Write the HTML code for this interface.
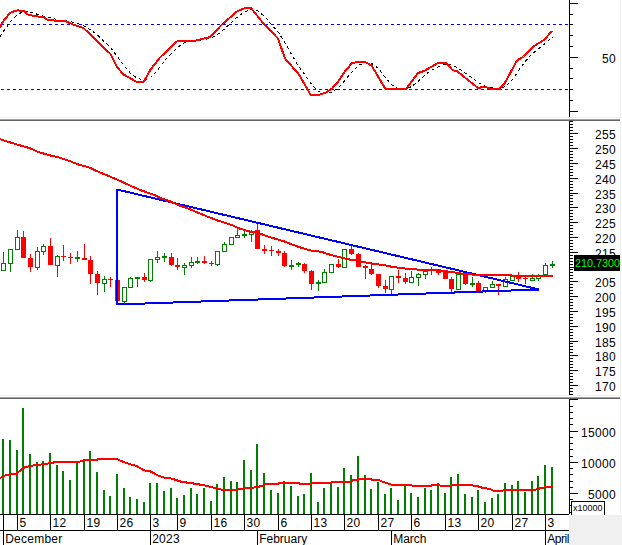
<!DOCTYPE html>
<html><head><meta charset="utf-8"><title>Chart</title>
<style>
html,body{margin:0;padding:0;background:#fff;}
body{width:622px;height:545px;overflow:hidden;position:relative;font-family:"Liberation Sans",sans-serif;}
svg{position:absolute;left:0;top:0;display:block}
text{font-family:"Liberation Sans",sans-serif;}
</style></head><body>
<svg width="622" height="545" viewBox="0 0 622 545">
<rect x="0" y="0" width="622" height="545" fill="#fff"/>

<g shape-rendering="crispEdges">
<rect x="620" y="0" width="1" height="514" fill="#efefef"/>
<rect x="0" y="117" width="621" height="1" fill="#efefef"/>
<rect x="0" y="118" width="622" height="1" fill="#ffffff"/>
<rect x="0" y="119" width="620" height="1" fill="#a0a0a0"/>
<rect x="0" y="120" width="620" height="1" fill="#646464"/>
<rect x="0" y="395" width="621" height="1" fill="#efefef"/>
<rect x="0" y="396" width="622" height="1" fill="#ffffff"/>
<rect x="0" y="397" width="620" height="1" fill="#a0a0a0"/>
<rect x="0" y="398" width="620" height="1" fill="#646464"/>
<rect x="1" y="24" width="3" height="1" fill="#0000ff"/>
<rect x="7" y="24" width="3" height="1" fill="#0000ff"/>
<rect x="13" y="24" width="3" height="1" fill="#0000ff"/>
<rect x="19" y="24" width="3" height="1" fill="#0000ff"/>
<rect x="25" y="24" width="3" height="1" fill="#0000ff"/>
<rect x="31" y="24" width="3" height="1" fill="#0000ff"/>
<rect x="37" y="24" width="3" height="1" fill="#0000ff"/>
<rect x="43" y="24" width="3" height="1" fill="#0000ff"/>
<rect x="49" y="24" width="3" height="1" fill="#0000ff"/>
<rect x="55" y="24" width="3" height="1" fill="#0000ff"/>
<rect x="61" y="24" width="3" height="1" fill="#0000ff"/>
<rect x="67" y="24" width="3" height="1" fill="#0000ff"/>
<rect x="73" y="24" width="3" height="1" fill="#0000ff"/>
<rect x="79" y="24" width="3" height="1" fill="#0000ff"/>
<rect x="85" y="24" width="3" height="1" fill="#0000ff"/>
<rect x="91" y="24" width="3" height="1" fill="#0000ff"/>
<rect x="97" y="24" width="3" height="1" fill="#0000ff"/>
<rect x="103" y="24" width="3" height="1" fill="#0000ff"/>
<rect x="109" y="24" width="3" height="1" fill="#0000ff"/>
<rect x="115" y="24" width="3" height="1" fill="#0000ff"/>
<rect x="121" y="24" width="3" height="1" fill="#0000ff"/>
<rect x="127" y="24" width="3" height="1" fill="#0000ff"/>
<rect x="133" y="24" width="3" height="1" fill="#0000ff"/>
<rect x="139" y="24" width="3" height="1" fill="#0000ff"/>
<rect x="145" y="24" width="3" height="1" fill="#0000ff"/>
<rect x="151" y="24" width="3" height="1" fill="#0000ff"/>
<rect x="157" y="24" width="3" height="1" fill="#0000ff"/>
<rect x="163" y="24" width="3" height="1" fill="#0000ff"/>
<rect x="169" y="24" width="3" height="1" fill="#0000ff"/>
<rect x="175" y="24" width="3" height="1" fill="#0000ff"/>
<rect x="181" y="24" width="3" height="1" fill="#0000ff"/>
<rect x="187" y="24" width="3" height="1" fill="#0000ff"/>
<rect x="193" y="24" width="3" height="1" fill="#0000ff"/>
<rect x="199" y="24" width="3" height="1" fill="#0000ff"/>
<rect x="205" y="24" width="3" height="1" fill="#0000ff"/>
<rect x="211" y="24" width="3" height="1" fill="#0000ff"/>
<rect x="217" y="24" width="3" height="1" fill="#0000ff"/>
<rect x="223" y="24" width="3" height="1" fill="#0000ff"/>
<rect x="229" y="24" width="3" height="1" fill="#0000ff"/>
<rect x="235" y="24" width="3" height="1" fill="#0000ff"/>
<rect x="241" y="24" width="3" height="1" fill="#0000ff"/>
<rect x="247" y="24" width="3" height="1" fill="#0000ff"/>
<rect x="253" y="24" width="3" height="1" fill="#0000ff"/>
<rect x="259" y="24" width="3" height="1" fill="#0000ff"/>
<rect x="265" y="24" width="3" height="1" fill="#0000ff"/>
<rect x="271" y="24" width="3" height="1" fill="#0000ff"/>
<rect x="277" y="24" width="3" height="1" fill="#0000ff"/>
<rect x="283" y="24" width="3" height="1" fill="#0000ff"/>
<rect x="289" y="24" width="3" height="1" fill="#0000ff"/>
<rect x="295" y="24" width="3" height="1" fill="#0000ff"/>
<rect x="301" y="24" width="3" height="1" fill="#0000ff"/>
<rect x="307" y="24" width="3" height="1" fill="#0000ff"/>
<rect x="313" y="24" width="3" height="1" fill="#0000ff"/>
<rect x="319" y="24" width="3" height="1" fill="#0000ff"/>
<rect x="325" y="24" width="3" height="1" fill="#0000ff"/>
<rect x="331" y="24" width="3" height="1" fill="#0000ff"/>
<rect x="337" y="24" width="3" height="1" fill="#0000ff"/>
<rect x="343" y="24" width="3" height="1" fill="#0000ff"/>
<rect x="349" y="24" width="3" height="1" fill="#0000ff"/>
<rect x="355" y="24" width="3" height="1" fill="#0000ff"/>
<rect x="361" y="24" width="3" height="1" fill="#0000ff"/>
<rect x="367" y="24" width="3" height="1" fill="#0000ff"/>
<rect x="373" y="24" width="3" height="1" fill="#0000ff"/>
<rect x="379" y="24" width="3" height="1" fill="#0000ff"/>
<rect x="385" y="24" width="3" height="1" fill="#0000ff"/>
<rect x="391" y="24" width="3" height="1" fill="#0000ff"/>
<rect x="397" y="24" width="3" height="1" fill="#0000ff"/>
<rect x="403" y="24" width="3" height="1" fill="#0000ff"/>
<rect x="409" y="24" width="3" height="1" fill="#0000ff"/>
<rect x="415" y="24" width="3" height="1" fill="#0000ff"/>
<rect x="421" y="24" width="3" height="1" fill="#0000ff"/>
<rect x="427" y="24" width="3" height="1" fill="#0000ff"/>
<rect x="433" y="24" width="3" height="1" fill="#0000ff"/>
<rect x="439" y="24" width="3" height="1" fill="#0000ff"/>
<rect x="445" y="24" width="3" height="1" fill="#0000ff"/>
<rect x="451" y="24" width="3" height="1" fill="#0000ff"/>
<rect x="457" y="24" width="3" height="1" fill="#0000ff"/>
<rect x="463" y="24" width="3" height="1" fill="#0000ff"/>
<rect x="469" y="24" width="3" height="1" fill="#0000ff"/>
<rect x="475" y="24" width="3" height="1" fill="#0000ff"/>
<rect x="481" y="24" width="3" height="1" fill="#0000ff"/>
<rect x="487" y="24" width="3" height="1" fill="#0000ff"/>
<rect x="493" y="24" width="3" height="1" fill="#0000ff"/>
<rect x="499" y="24" width="3" height="1" fill="#0000ff"/>
<rect x="505" y="24" width="3" height="1" fill="#0000ff"/>
<rect x="511" y="24" width="3" height="1" fill="#0000ff"/>
<rect x="517" y="24" width="3" height="1" fill="#0000ff"/>
<rect x="523" y="24" width="3" height="1" fill="#0000ff"/>
<rect x="529" y="24" width="3" height="1" fill="#0000ff"/>
<rect x="535" y="24" width="3" height="1" fill="#0000ff"/>
<rect x="541" y="24" width="3" height="1" fill="#0000ff"/>
<rect x="547" y="24" width="3" height="1" fill="#0000ff"/>
<rect x="553" y="24" width="3" height="1" fill="#0000ff"/>
<rect x="559" y="24" width="3" height="1" fill="#0000ff"/>
<rect x="565" y="24" width="3" height="1" fill="#0000ff"/>
<rect x="1" y="89" width="3" height="1" fill="#0000ff"/>
<rect x="7" y="89" width="3" height="1" fill="#0000ff"/>
<rect x="13" y="89" width="3" height="1" fill="#0000ff"/>
<rect x="19" y="89" width="3" height="1" fill="#0000ff"/>
<rect x="25" y="89" width="3" height="1" fill="#0000ff"/>
<rect x="31" y="89" width="3" height="1" fill="#0000ff"/>
<rect x="37" y="89" width="3" height="1" fill="#0000ff"/>
<rect x="43" y="89" width="3" height="1" fill="#0000ff"/>
<rect x="49" y="89" width="3" height="1" fill="#0000ff"/>
<rect x="55" y="89" width="3" height="1" fill="#0000ff"/>
<rect x="61" y="89" width="3" height="1" fill="#0000ff"/>
<rect x="67" y="89" width="3" height="1" fill="#0000ff"/>
<rect x="73" y="89" width="3" height="1" fill="#0000ff"/>
<rect x="79" y="89" width="3" height="1" fill="#0000ff"/>
<rect x="85" y="89" width="3" height="1" fill="#0000ff"/>
<rect x="91" y="89" width="3" height="1" fill="#0000ff"/>
<rect x="97" y="89" width="3" height="1" fill="#0000ff"/>
<rect x="103" y="89" width="3" height="1" fill="#0000ff"/>
<rect x="109" y="89" width="3" height="1" fill="#0000ff"/>
<rect x="115" y="89" width="3" height="1" fill="#0000ff"/>
<rect x="121" y="89" width="3" height="1" fill="#0000ff"/>
<rect x="127" y="89" width="3" height="1" fill="#0000ff"/>
<rect x="133" y="89" width="3" height="1" fill="#0000ff"/>
<rect x="139" y="89" width="3" height="1" fill="#0000ff"/>
<rect x="145" y="89" width="3" height="1" fill="#0000ff"/>
<rect x="151" y="89" width="3" height="1" fill="#0000ff"/>
<rect x="157" y="89" width="3" height="1" fill="#0000ff"/>
<rect x="163" y="89" width="3" height="1" fill="#0000ff"/>
<rect x="169" y="89" width="3" height="1" fill="#0000ff"/>
<rect x="175" y="89" width="3" height="1" fill="#0000ff"/>
<rect x="181" y="89" width="3" height="1" fill="#0000ff"/>
<rect x="187" y="89" width="3" height="1" fill="#0000ff"/>
<rect x="193" y="89" width="3" height="1" fill="#0000ff"/>
<rect x="199" y="89" width="3" height="1" fill="#0000ff"/>
<rect x="205" y="89" width="3" height="1" fill="#0000ff"/>
<rect x="211" y="89" width="3" height="1" fill="#0000ff"/>
<rect x="217" y="89" width="3" height="1" fill="#0000ff"/>
<rect x="223" y="89" width="3" height="1" fill="#0000ff"/>
<rect x="229" y="89" width="3" height="1" fill="#0000ff"/>
<rect x="235" y="89" width="3" height="1" fill="#0000ff"/>
<rect x="241" y="89" width="3" height="1" fill="#0000ff"/>
<rect x="247" y="89" width="3" height="1" fill="#0000ff"/>
<rect x="253" y="89" width="3" height="1" fill="#0000ff"/>
<rect x="259" y="89" width="3" height="1" fill="#0000ff"/>
<rect x="265" y="89" width="3" height="1" fill="#0000ff"/>
<rect x="271" y="89" width="3" height="1" fill="#0000ff"/>
<rect x="277" y="89" width="3" height="1" fill="#0000ff"/>
<rect x="283" y="89" width="3" height="1" fill="#0000ff"/>
<rect x="289" y="89" width="3" height="1" fill="#0000ff"/>
<rect x="295" y="89" width="3" height="1" fill="#0000ff"/>
<rect x="301" y="89" width="3" height="1" fill="#0000ff"/>
<rect x="307" y="89" width="3" height="1" fill="#0000ff"/>
<rect x="313" y="89" width="3" height="1" fill="#0000ff"/>
<rect x="319" y="89" width="3" height="1" fill="#0000ff"/>
<rect x="325" y="89" width="3" height="1" fill="#0000ff"/>
<rect x="331" y="89" width="3" height="1" fill="#0000ff"/>
<rect x="337" y="89" width="3" height="1" fill="#0000ff"/>
<rect x="343" y="89" width="3" height="1" fill="#0000ff"/>
<rect x="349" y="89" width="3" height="1" fill="#0000ff"/>
<rect x="355" y="89" width="3" height="1" fill="#0000ff"/>
<rect x="361" y="89" width="3" height="1" fill="#0000ff"/>
<rect x="367" y="89" width="3" height="1" fill="#0000ff"/>
<rect x="373" y="89" width="3" height="1" fill="#0000ff"/>
<rect x="379" y="89" width="3" height="1" fill="#0000ff"/>
<rect x="385" y="89" width="3" height="1" fill="#0000ff"/>
<rect x="391" y="89" width="3" height="1" fill="#0000ff"/>
<rect x="397" y="89" width="3" height="1" fill="#0000ff"/>
<rect x="403" y="89" width="3" height="1" fill="#0000ff"/>
<rect x="409" y="89" width="3" height="1" fill="#0000ff"/>
<rect x="415" y="89" width="3" height="1" fill="#0000ff"/>
<rect x="421" y="89" width="3" height="1" fill="#0000ff"/>
<rect x="427" y="89" width="3" height="1" fill="#0000ff"/>
<rect x="433" y="89" width="3" height="1" fill="#0000ff"/>
<rect x="439" y="89" width="3" height="1" fill="#0000ff"/>
<rect x="445" y="89" width="3" height="1" fill="#0000ff"/>
<rect x="451" y="89" width="3" height="1" fill="#0000ff"/>
<rect x="457" y="89" width="3" height="1" fill="#0000ff"/>
<rect x="463" y="89" width="3" height="1" fill="#0000ff"/>
<rect x="469" y="89" width="3" height="1" fill="#0000ff"/>
<rect x="475" y="89" width="3" height="1" fill="#0000ff"/>
<rect x="481" y="89" width="3" height="1" fill="#0000ff"/>
<rect x="487" y="89" width="3" height="1" fill="#0000ff"/>
<rect x="493" y="89" width="3" height="1" fill="#0000ff"/>
<rect x="499" y="89" width="3" height="1" fill="#0000ff"/>
<rect x="505" y="89" width="3" height="1" fill="#0000ff"/>
<rect x="511" y="89" width="3" height="1" fill="#0000ff"/>
<rect x="517" y="89" width="3" height="1" fill="#0000ff"/>
<rect x="523" y="89" width="3" height="1" fill="#0000ff"/>
<rect x="529" y="89" width="3" height="1" fill="#0000ff"/>
<rect x="535" y="89" width="3" height="1" fill="#0000ff"/>
<rect x="541" y="89" width="3" height="1" fill="#0000ff"/>
<rect x="547" y="89" width="3" height="1" fill="#0000ff"/>
<rect x="553" y="89" width="3" height="1" fill="#0000ff"/>
<rect x="559" y="89" width="3" height="1" fill="#0000ff"/>
<rect x="565" y="89" width="3" height="1" fill="#0000ff"/>
<rect x="569" y="0" width="1" height="117" fill="#000"/>
<rect x="570" y="3" width="8" height="1" fill="#000"/>
<rect x="570" y="14" width="3" height="1" fill="#000"/>
<rect x="570" y="24" width="3" height="1" fill="#000"/>
<rect x="570" y="35" width="3" height="1" fill="#000"/>
<rect x="570" y="46" width="3" height="1" fill="#000"/>
<rect x="570" y="57" width="8" height="1" fill="#000"/>
<rect x="570" y="68" width="3" height="1" fill="#000"/>
<rect x="570" y="78" width="3" height="1" fill="#000"/>
<rect x="570" y="89" width="3" height="1" fill="#000"/>
<rect x="570" y="100" width="3" height="1" fill="#000"/>
<rect x="570" y="111" width="8" height="1" fill="#000"/>
<rect x="569" y="121" width="1" height="274" fill="#000"/>
<rect x="570" y="121" width="3" height="1" fill="#000"/>
<rect x="570" y="124" width="3" height="1" fill="#000"/>
<rect x="570" y="127" width="3" height="1" fill="#000"/>
<rect x="570" y="130" width="3" height="1" fill="#000"/>
<rect x="570" y="133" width="8" height="1" fill="#000"/>
<rect x="570" y="136" width="3" height="1" fill="#000"/>
<rect x="570" y="139" width="3" height="1" fill="#000"/>
<rect x="570" y="142" width="3" height="1" fill="#000"/>
<rect x="570" y="145" width="3" height="1" fill="#000"/>
<rect x="570" y="148" width="8" height="1" fill="#000"/>
<rect x="570" y="151" width="3" height="1" fill="#000"/>
<rect x="570" y="154" width="3" height="1" fill="#000"/>
<rect x="570" y="157" width="3" height="1" fill="#000"/>
<rect x="570" y="160" width="3" height="1" fill="#000"/>
<rect x="570" y="163" width="8" height="1" fill="#000"/>
<rect x="570" y="166" width="3" height="1" fill="#000"/>
<rect x="570" y="169" width="3" height="1" fill="#000"/>
<rect x="570" y="172" width="3" height="1" fill="#000"/>
<rect x="570" y="175" width="3" height="1" fill="#000"/>
<rect x="570" y="178" width="8" height="1" fill="#000"/>
<rect x="570" y="181" width="3" height="1" fill="#000"/>
<rect x="570" y="184" width="3" height="1" fill="#000"/>
<rect x="570" y="187" width="3" height="1" fill="#000"/>
<rect x="570" y="190" width="3" height="1" fill="#000"/>
<rect x="570" y="193" width="8" height="1" fill="#000"/>
<rect x="570" y="195" width="3" height="1" fill="#000"/>
<rect x="570" y="198" width="3" height="1" fill="#000"/>
<rect x="570" y="201" width="3" height="1" fill="#000"/>
<rect x="570" y="204" width="3" height="1" fill="#000"/>
<rect x="570" y="207" width="8" height="1" fill="#000"/>
<rect x="570" y="210" width="3" height="1" fill="#000"/>
<rect x="570" y="213" width="3" height="1" fill="#000"/>
<rect x="570" y="216" width="3" height="1" fill="#000"/>
<rect x="570" y="219" width="3" height="1" fill="#000"/>
<rect x="570" y="222" width="8" height="1" fill="#000"/>
<rect x="570" y="225" width="3" height="1" fill="#000"/>
<rect x="570" y="228" width="3" height="1" fill="#000"/>
<rect x="570" y="231" width="3" height="1" fill="#000"/>
<rect x="570" y="234" width="3" height="1" fill="#000"/>
<rect x="570" y="237" width="8" height="1" fill="#000"/>
<rect x="570" y="240" width="3" height="1" fill="#000"/>
<rect x="570" y="243" width="3" height="1" fill="#000"/>
<rect x="570" y="246" width="3" height="1" fill="#000"/>
<rect x="570" y="249" width="3" height="1" fill="#000"/>
<rect x="570" y="252" width="8" height="1" fill="#000"/>
<rect x="570" y="255" width="3" height="1" fill="#000"/>
<rect x="570" y="258" width="3" height="1" fill="#000"/>
<rect x="570" y="261" width="3" height="1" fill="#000"/>
<rect x="570" y="264" width="3" height="1" fill="#000"/>
<rect x="570" y="267" width="8" height="1" fill="#000"/>
<rect x="570" y="269" width="3" height="1" fill="#000"/>
<rect x="570" y="272" width="3" height="1" fill="#000"/>
<rect x="570" y="275" width="3" height="1" fill="#000"/>
<rect x="570" y="278" width="3" height="1" fill="#000"/>
<rect x="570" y="281" width="8" height="1" fill="#000"/>
<rect x="570" y="284" width="3" height="1" fill="#000"/>
<rect x="570" y="287" width="3" height="1" fill="#000"/>
<rect x="570" y="290" width="3" height="1" fill="#000"/>
<rect x="570" y="293" width="3" height="1" fill="#000"/>
<rect x="570" y="296" width="8" height="1" fill="#000"/>
<rect x="570" y="299" width="3" height="1" fill="#000"/>
<rect x="570" y="302" width="3" height="1" fill="#000"/>
<rect x="570" y="305" width="3" height="1" fill="#000"/>
<rect x="570" y="308" width="3" height="1" fill="#000"/>
<rect x="570" y="311" width="8" height="1" fill="#000"/>
<rect x="570" y="314" width="3" height="1" fill="#000"/>
<rect x="570" y="317" width="3" height="1" fill="#000"/>
<rect x="570" y="320" width="3" height="1" fill="#000"/>
<rect x="570" y="323" width="3" height="1" fill="#000"/>
<rect x="570" y="326" width="8" height="1" fill="#000"/>
<rect x="570" y="329" width="3" height="1" fill="#000"/>
<rect x="570" y="332" width="3" height="1" fill="#000"/>
<rect x="570" y="335" width="3" height="1" fill="#000"/>
<rect x="570" y="338" width="3" height="1" fill="#000"/>
<rect x="570" y="341" width="8" height="1" fill="#000"/>
<rect x="570" y="343" width="3" height="1" fill="#000"/>
<rect x="570" y="346" width="3" height="1" fill="#000"/>
<rect x="570" y="349" width="3" height="1" fill="#000"/>
<rect x="570" y="352" width="3" height="1" fill="#000"/>
<rect x="570" y="355" width="8" height="1" fill="#000"/>
<rect x="570" y="358" width="3" height="1" fill="#000"/>
<rect x="570" y="361" width="3" height="1" fill="#000"/>
<rect x="570" y="364" width="3" height="1" fill="#000"/>
<rect x="570" y="367" width="3" height="1" fill="#000"/>
<rect x="570" y="370" width="8" height="1" fill="#000"/>
<rect x="570" y="373" width="3" height="1" fill="#000"/>
<rect x="570" y="376" width="3" height="1" fill="#000"/>
<rect x="570" y="379" width="3" height="1" fill="#000"/>
<rect x="570" y="382" width="3" height="1" fill="#000"/>
<rect x="570" y="385" width="8" height="1" fill="#000"/>
<rect x="570" y="388" width="3" height="1" fill="#000"/>
<rect x="570" y="391" width="3" height="1" fill="#000"/>
<rect x="570" y="394" width="3" height="1" fill="#000"/>
<rect x="569" y="399" width="1" height="115" fill="#000"/>
<rect x="570" y="399" width="8" height="1" fill="#000"/>
<rect x="570" y="406" width="3" height="1" fill="#000"/>
<rect x="570" y="412" width="3" height="1" fill="#000"/>
<rect x="570" y="418" width="3" height="1" fill="#000"/>
<rect x="570" y="424" width="3" height="1" fill="#000"/>
<rect x="570" y="431" width="8" height="1" fill="#000"/>
<rect x="570" y="437" width="3" height="1" fill="#000"/>
<rect x="570" y="443" width="3" height="1" fill="#000"/>
<rect x="570" y="449" width="3" height="1" fill="#000"/>
<rect x="570" y="456" width="3" height="1" fill="#000"/>
<rect x="570" y="462" width="8" height="1" fill="#000"/>
<rect x="570" y="468" width="3" height="1" fill="#000"/>
<rect x="570" y="474" width="3" height="1" fill="#000"/>
<rect x="570" y="481" width="3" height="1" fill="#000"/>
<rect x="570" y="487" width="3" height="1" fill="#000"/>
<rect x="570" y="493" width="8" height="1" fill="#000"/>
<rect x="570" y="499" width="3" height="1" fill="#000"/>
<rect x="570" y="505" width="3" height="1" fill="#000"/>
<rect x="570" y="512" width="3" height="1" fill="#000"/>
<rect x="0" y="514" width="569" height="1" fill="#000"/>
<rect x="0" y="530" width="569" height="1" fill="#000"/>
<rect x="3" y="514" width="1" height="16" fill="#000"/>
<rect x="17" y="514" width="1" height="16" fill="#000"/>
<rect x="50" y="514" width="1" height="16" fill="#000"/>
<rect x="84" y="514" width="1" height="16" fill="#000"/>
<rect x="117" y="514" width="1" height="16" fill="#000"/>
<rect x="150" y="514" width="1" height="16" fill="#000"/>
<rect x="177" y="514" width="1" height="16" fill="#000"/>
<rect x="211" y="514" width="1" height="16" fill="#000"/>
<rect x="244" y="514" width="1" height="16" fill="#000"/>
<rect x="278" y="514" width="1" height="16" fill="#000"/>
<rect x="311" y="514" width="1" height="16" fill="#000"/>
<rect x="344" y="514" width="1" height="16" fill="#000"/>
<rect x="378" y="514" width="1" height="16" fill="#000"/>
<rect x="411" y="514" width="1" height="16" fill="#000"/>
<rect x="445" y="514" width="1" height="16" fill="#000"/>
<rect x="478" y="514" width="1" height="16" fill="#000"/>
<rect x="512" y="514" width="1" height="16" fill="#000"/>
<rect x="545" y="514" width="1" height="16" fill="#000"/>
<rect x="3" y="530" width="1" height="15" fill="#000"/>
<rect x="150" y="530" width="1" height="15" fill="#000"/>
<rect x="257" y="530" width="1" height="15" fill="#000"/>
<rect x="391" y="530" width="1" height="15" fill="#000"/>
<rect x="545" y="530" width="1" height="15" fill="#000"/>
<rect x="2" y="439" width="2" height="75" fill="#008000"/>
<rect x="9" y="440" width="2" height="74" fill="#008000"/>
<rect x="16" y="450" width="2" height="64" fill="#008000"/>
<rect x="22" y="408" width="2" height="106" fill="#008000"/>
<rect x="29" y="454" width="2" height="60" fill="#008000"/>
<rect x="36" y="462" width="2" height="52" fill="#008000"/>
<rect x="42" y="461" width="2" height="53" fill="#008000"/>
<rect x="49" y="453" width="2" height="61" fill="#008000"/>
<rect x="56" y="465" width="2" height="49" fill="#008000"/>
<rect x="62" y="471" width="2" height="43" fill="#008000"/>
<rect x="69" y="480" width="2" height="34" fill="#008000"/>
<rect x="76" y="463" width="2" height="51" fill="#008000"/>
<rect x="83" y="460" width="2" height="54" fill="#008000"/>
<rect x="89" y="451" width="2" height="63" fill="#008000"/>
<rect x="96" y="472" width="2" height="42" fill="#008000"/>
<rect x="103" y="490" width="2" height="24" fill="#008000"/>
<rect x="109" y="496" width="2" height="18" fill="#008000"/>
<rect x="116" y="474" width="2" height="40" fill="#008000"/>
<rect x="123" y="488" width="2" height="26" fill="#008000"/>
<rect x="129" y="497" width="2" height="17" fill="#008000"/>
<rect x="136" y="499" width="2" height="15" fill="#008000"/>
<rect x="143" y="502" width="2" height="12" fill="#008000"/>
<rect x="149" y="483" width="2" height="31" fill="#008000"/>
<rect x="156" y="483" width="2" height="31" fill="#008000"/>
<rect x="163" y="491" width="2" height="23" fill="#008000"/>
<rect x="170" y="488" width="2" height="26" fill="#008000"/>
<rect x="176" y="498" width="2" height="16" fill="#008000"/>
<rect x="183" y="495" width="2" height="19" fill="#008000"/>
<rect x="190" y="488" width="2" height="26" fill="#008000"/>
<rect x="196" y="494" width="2" height="20" fill="#008000"/>
<rect x="203" y="488" width="2" height="26" fill="#008000"/>
<rect x="210" y="501" width="2" height="13" fill="#008000"/>
<rect x="216" y="484" width="2" height="30" fill="#008000"/>
<rect x="223" y="477" width="2" height="37" fill="#008000"/>
<rect x="230" y="481" width="2" height="33" fill="#008000"/>
<rect x="236" y="482" width="2" height="32" fill="#008000"/>
<rect x="243" y="460" width="2" height="54" fill="#008000"/>
<rect x="250" y="470" width="2" height="44" fill="#008000"/>
<rect x="256" y="444" width="2" height="70" fill="#008000"/>
<rect x="263" y="473" width="2" height="41" fill="#008000"/>
<rect x="270" y="490" width="2" height="24" fill="#008000"/>
<rect x="277" y="493" width="2" height="21" fill="#008000"/>
<rect x="283" y="481" width="2" height="33" fill="#008000"/>
<rect x="290" y="486" width="2" height="28" fill="#008000"/>
<rect x="297" y="496" width="2" height="18" fill="#008000"/>
<rect x="303" y="494" width="2" height="20" fill="#008000"/>
<rect x="310" y="473" width="2" height="41" fill="#008000"/>
<rect x="317" y="502" width="2" height="12" fill="#008000"/>
<rect x="323" y="488" width="2" height="26" fill="#008000"/>
<rect x="330" y="483" width="2" height="31" fill="#008000"/>
<rect x="337" y="487" width="2" height="27" fill="#008000"/>
<rect x="343" y="468" width="2" height="46" fill="#008000"/>
<rect x="350" y="475" width="2" height="39" fill="#008000"/>
<rect x="357" y="456" width="2" height="58" fill="#008000"/>
<rect x="364" y="475" width="2" height="39" fill="#008000"/>
<rect x="370" y="489" width="2" height="25" fill="#008000"/>
<rect x="377" y="482" width="2" height="32" fill="#008000"/>
<rect x="384" y="494" width="2" height="20" fill="#008000"/>
<rect x="390" y="488" width="2" height="26" fill="#008000"/>
<rect x="397" y="500" width="2" height="14" fill="#008000"/>
<rect x="404" y="486" width="2" height="28" fill="#008000"/>
<rect x="410" y="493" width="2" height="21" fill="#008000"/>
<rect x="417" y="497" width="2" height="17" fill="#008000"/>
<rect x="424" y="488" width="2" height="26" fill="#008000"/>
<rect x="430" y="490" width="2" height="24" fill="#008000"/>
<rect x="437" y="483" width="2" height="31" fill="#008000"/>
<rect x="444" y="493" width="2" height="21" fill="#008000"/>
<rect x="450" y="477" width="2" height="37" fill="#008000"/>
<rect x="457" y="474" width="2" height="40" fill="#008000"/>
<rect x="464" y="494" width="2" height="20" fill="#008000"/>
<rect x="471" y="497" width="2" height="17" fill="#008000"/>
<rect x="477" y="490" width="2" height="24" fill="#008000"/>
<rect x="484" y="502" width="2" height="12" fill="#008000"/>
<rect x="491" y="498" width="2" height="16" fill="#008000"/>
<rect x="497" y="494" width="2" height="20" fill="#008000"/>
<rect x="504" y="483" width="2" height="31" fill="#008000"/>
<rect x="511" y="485" width="2" height="29" fill="#008000"/>
<rect x="517" y="481" width="2" height="33" fill="#008000"/>
<rect x="524" y="492" width="2" height="22" fill="#008000"/>
<rect x="531" y="481" width="2" height="33" fill="#008000"/>
<rect x="537" y="476" width="2" height="38" fill="#008000"/>
<rect x="544" y="465" width="2" height="49" fill="#008000"/>
<rect x="551" y="467" width="2" height="47" fill="#008000"/>
</g>
<g shape-rendering="crispEdges">
<rect x="3" y="252" width="1" height="19" fill="#008000"/>
<rect x="1" y="263" width="5" height="8" fill="#008000"/>
<rect x="2" y="264" width="3" height="6" fill="#fff"/>
<rect x="10" y="249" width="1" height="23" fill="#008000"/>
<rect x="8" y="249" width="5" height="15" fill="#008000"/>
<rect x="9" y="250" width="3" height="13" fill="#fff"/>
<rect x="17" y="230" width="1" height="20" fill="#008000"/>
<rect x="15" y="237" width="5" height="13" fill="#008000"/>
<rect x="16" y="238" width="3" height="11" fill="#fff"/>
<rect x="23" y="231" width="1" height="27" fill="#ff0000"/>
<rect x="21" y="237" width="5" height="21" fill="#ff0000"/>
<rect x="30" y="254" width="1" height="18" fill="#ff0000"/>
<rect x="28" y="258" width="5" height="9" fill="#ff0000"/>
<rect x="37" y="247" width="1" height="23" fill="#008000"/>
<rect x="35" y="251" width="5" height="17" fill="#008000"/>
<rect x="36" y="252" width="3" height="15" fill="#fff"/>
<rect x="43" y="244" width="1" height="11" fill="#008000"/>
<rect x="41" y="246" width="5" height="6" fill="#008000"/>
<rect x="42" y="247" width="3" height="4" fill="#fff"/>
<rect x="50" y="238" width="1" height="27" fill="#ff0000"/>
<rect x="48" y="246" width="5" height="19" fill="#ff0000"/>
<rect x="57" y="255" width="1" height="22" fill="#008000"/>
<rect x="55" y="256" width="5" height="10" fill="#008000"/>
<rect x="56" y="257" width="3" height="8" fill="#fff"/>
<rect x="63" y="245" width="1" height="16" fill="#ff0000"/>
<rect x="61" y="256" width="5" height="1" fill="#ff0000"/>
<rect x="70" y="253" width="1" height="11" fill="#ff0000"/>
<rect x="68" y="257" width="5" height="1" fill="#ff0000"/>
<rect x="77" y="251" width="1" height="11" fill="#008000"/>
<rect x="75" y="257" width="5" height="2" fill="#008000"/>
<rect x="84" y="244" width="1" height="16" fill="#ff0000"/>
<rect x="82" y="258" width="5" height="2" fill="#ff0000"/>
<rect x="90" y="256" width="1" height="28" fill="#ff0000"/>
<rect x="88" y="260" width="5" height="14" fill="#ff0000"/>
<rect x="97" y="271" width="1" height="24" fill="#ff0000"/>
<rect x="95" y="274" width="5" height="9" fill="#ff0000"/>
<rect x="104" y="276" width="1" height="16" fill="#008000"/>
<rect x="102" y="279" width="5" height="5" fill="#008000"/>
<rect x="103" y="280" width="3" height="3" fill="#fff"/>
<rect x="110" y="277" width="1" height="10" fill="#ff0000"/>
<rect x="108" y="279" width="5" height="1" fill="#ff0000"/>
<rect x="117" y="280" width="1" height="21" fill="#ff0000"/>
<rect x="115" y="280" width="5" height="21" fill="#ff0000"/>
<rect x="124" y="287" width="1" height="16" fill="#008000"/>
<rect x="122" y="287" width="5" height="15" fill="#008000"/>
<rect x="123" y="288" width="3" height="13" fill="#fff"/>
<rect x="130" y="277" width="1" height="11" fill="#008000"/>
<rect x="128" y="278" width="5" height="10" fill="#008000"/>
<rect x="129" y="279" width="3" height="8" fill="#fff"/>
<rect x="137" y="277" width="1" height="10" fill="#008000"/>
<rect x="135" y="277" width="5" height="2" fill="#008000"/>
<rect x="144" y="273" width="1" height="9" fill="#ff0000"/>
<rect x="142" y="277" width="5" height="3" fill="#ff0000"/>
<rect x="150" y="259" width="1" height="23" fill="#008000"/>
<rect x="148" y="259" width="5" height="22" fill="#008000"/>
<rect x="149" y="260" width="3" height="20" fill="#fff"/>
<rect x="157" y="251" width="1" height="12" fill="#008000"/>
<rect x="155" y="257" width="5" height="3" fill="#008000"/>
<rect x="156" y="258" width="3" height="1" fill="#fff"/>
<rect x="164" y="253" width="1" height="9" fill="#008000"/>
<rect x="162" y="256" width="5" height="2" fill="#008000"/>
<rect x="171" y="253" width="1" height="13" fill="#ff0000"/>
<rect x="169" y="257" width="5" height="8" fill="#ff0000"/>
<rect x="177" y="258" width="1" height="12" fill="#ff0000"/>
<rect x="175" y="265" width="5" height="2" fill="#ff0000"/>
<rect x="184" y="263" width="1" height="12" fill="#008000"/>
<rect x="182" y="265" width="5" height="3" fill="#008000"/>
<rect x="183" y="266" width="3" height="1" fill="#fff"/>
<rect x="191" y="257" width="1" height="11" fill="#008000"/>
<rect x="189" y="262" width="5" height="4" fill="#008000"/>
<rect x="190" y="263" width="3" height="2" fill="#fff"/>
<rect x="197" y="257" width="1" height="7" fill="#008000"/>
<rect x="195" y="261" width="5" height="2" fill="#008000"/>
<rect x="204" y="256" width="1" height="8" fill="#ff0000"/>
<rect x="202" y="261" width="5" height="2" fill="#ff0000"/>
<rect x="211" y="261" width="1" height="5" fill="#ff0000"/>
<rect x="209" y="263" width="5" height="1" fill="#ff0000"/>
<rect x="217" y="251" width="1" height="15" fill="#008000"/>
<rect x="215" y="251" width="5" height="14" fill="#008000"/>
<rect x="216" y="252" width="3" height="12" fill="#fff"/>
<rect x="224" y="242" width="1" height="10" fill="#008000"/>
<rect x="222" y="244" width="5" height="8" fill="#008000"/>
<rect x="223" y="245" width="3" height="6" fill="#fff"/>
<rect x="231" y="237" width="1" height="8" fill="#008000"/>
<rect x="229" y="237" width="5" height="8" fill="#008000"/>
<rect x="230" y="238" width="3" height="6" fill="#fff"/>
<rect x="237" y="228" width="1" height="10" fill="#008000"/>
<rect x="235" y="235" width="5" height="3" fill="#008000"/>
<rect x="236" y="236" width="3" height="1" fill="#fff"/>
<rect x="244" y="230" width="1" height="8" fill="#008000"/>
<rect x="242" y="234" width="5" height="2" fill="#008000"/>
<rect x="251" y="230" width="1" height="12" fill="#008000"/>
<rect x="249" y="231" width="5" height="4" fill="#008000"/>
<rect x="250" y="232" width="3" height="2" fill="#fff"/>
<rect x="257" y="223" width="1" height="26" fill="#ff0000"/>
<rect x="255" y="230" width="5" height="19" fill="#ff0000"/>
<rect x="264" y="245" width="1" height="9" fill="#ff0000"/>
<rect x="262" y="249" width="5" height="2" fill="#ff0000"/>
<rect x="271" y="246" width="1" height="10" fill="#ff0000"/>
<rect x="269" y="250" width="5" height="1" fill="#ff0000"/>
<rect x="278" y="249" width="1" height="7" fill="#ff0000"/>
<rect x="276" y="251" width="5" height="2" fill="#ff0000"/>
<rect x="284" y="251" width="1" height="16" fill="#ff0000"/>
<rect x="282" y="253" width="5" height="13" fill="#ff0000"/>
<rect x="291" y="260" width="1" height="10" fill="#008000"/>
<rect x="289" y="265" width="5" height="2" fill="#008000"/>
<rect x="298" y="262" width="1" height="5" fill="#008000"/>
<rect x="296" y="263" width="5" height="2" fill="#008000"/>
<rect x="304" y="263" width="1" height="10" fill="#ff0000"/>
<rect x="302" y="264" width="5" height="7" fill="#ff0000"/>
<rect x="311" y="270" width="1" height="20" fill="#ff0000"/>
<rect x="309" y="271" width="5" height="13" fill="#ff0000"/>
<rect x="318" y="280" width="1" height="11" fill="#008000"/>
<rect x="316" y="282" width="5" height="2" fill="#008000"/>
<rect x="324" y="269" width="1" height="14" fill="#008000"/>
<rect x="322" y="272" width="5" height="11" fill="#008000"/>
<rect x="323" y="273" width="3" height="9" fill="#fff"/>
<rect x="331" y="264" width="1" height="9" fill="#008000"/>
<rect x="329" y="264" width="5" height="9" fill="#008000"/>
<rect x="330" y="265" width="3" height="7" fill="#fff"/>
<rect x="338" y="259" width="1" height="9" fill="#ff0000"/>
<rect x="336" y="264" width="5" height="3" fill="#ff0000"/>
<rect x="344" y="249" width="1" height="19" fill="#008000"/>
<rect x="342" y="249" width="5" height="19" fill="#008000"/>
<rect x="343" y="250" width="3" height="17" fill="#fff"/>
<rect x="351" y="246" width="1" height="9" fill="#ff0000"/>
<rect x="349" y="249" width="5" height="5" fill="#ff0000"/>
<rect x="358" y="253" width="1" height="14" fill="#ff0000"/>
<rect x="356" y="254" width="5" height="13" fill="#ff0000"/>
<rect x="365" y="265" width="1" height="14" fill="#ff0000"/>
<rect x="363" y="266" width="5" height="2" fill="#ff0000"/>
<rect x="371" y="264" width="1" height="11" fill="#ff0000"/>
<rect x="369" y="269" width="5" height="5" fill="#ff0000"/>
<rect x="378" y="274" width="1" height="14" fill="#ff0000"/>
<rect x="376" y="274" width="5" height="12" fill="#ff0000"/>
<rect x="385" y="280" width="1" height="13" fill="#ff0000"/>
<rect x="383" y="286" width="5" height="3" fill="#ff0000"/>
<rect x="391" y="276" width="1" height="18" fill="#008000"/>
<rect x="389" y="276" width="5" height="14" fill="#008000"/>
<rect x="390" y="277" width="3" height="12" fill="#fff"/>
<rect x="398" y="270" width="1" height="13" fill="#ff0000"/>
<rect x="396" y="276" width="5" height="2" fill="#ff0000"/>
<rect x="405" y="273" width="1" height="11" fill="#ff0000"/>
<rect x="403" y="278" width="5" height="4" fill="#ff0000"/>
<rect x="411" y="271" width="1" height="12" fill="#008000"/>
<rect x="409" y="277" width="5" height="6" fill="#008000"/>
<rect x="410" y="278" width="3" height="4" fill="#fff"/>
<rect x="418" y="273" width="1" height="13" fill="#008000"/>
<rect x="416" y="274" width="5" height="4" fill="#008000"/>
<rect x="417" y="275" width="3" height="2" fill="#fff"/>
<rect x="425" y="271" width="1" height="8" fill="#008000"/>
<rect x="423" y="271" width="5" height="4" fill="#008000"/>
<rect x="424" y="272" width="3" height="2" fill="#fff"/>
<rect x="431" y="267" width="1" height="8" fill="#008000"/>
<rect x="429" y="269" width="5" height="1" fill="#008000"/>
<rect x="438" y="269" width="1" height="6" fill="#ff0000"/>
<rect x="436" y="269" width="5" height="4" fill="#ff0000"/>
<rect x="445" y="272" width="1" height="7" fill="#ff0000"/>
<rect x="443" y="272" width="5" height="7" fill="#ff0000"/>
<rect x="451" y="277" width="1" height="15" fill="#ff0000"/>
<rect x="449" y="279" width="5" height="10" fill="#ff0000"/>
<rect x="458" y="274" width="1" height="16" fill="#008000"/>
<rect x="456" y="274" width="5" height="16" fill="#008000"/>
<rect x="457" y="275" width="3" height="14" fill="#fff"/>
<rect x="465" y="274" width="1" height="11" fill="#ff0000"/>
<rect x="463" y="274" width="5" height="10" fill="#ff0000"/>
<rect x="472" y="277" width="1" height="10" fill="#008000"/>
<rect x="470" y="283" width="5" height="2" fill="#008000"/>
<rect x="478" y="281" width="1" height="11" fill="#ff0000"/>
<rect x="476" y="283" width="5" height="9" fill="#ff0000"/>
<rect x="485" y="287" width="1" height="6" fill="#008000"/>
<rect x="483" y="287" width="5" height="4" fill="#008000"/>
<rect x="484" y="288" width="3" height="2" fill="#fff"/>
<rect x="492" y="281" width="1" height="7" fill="#008000"/>
<rect x="490" y="284" width="5" height="4" fill="#008000"/>
<rect x="491" y="285" width="3" height="2" fill="#fff"/>
<rect x="498" y="284" width="1" height="11" fill="#ff0000"/>
<rect x="496" y="284" width="5" height="2" fill="#ff0000"/>
<rect x="505" y="277" width="1" height="10" fill="#008000"/>
<rect x="503" y="279" width="5" height="8" fill="#008000"/>
<rect x="504" y="280" width="3" height="6" fill="#fff"/>
<rect x="512" y="275" width="1" height="6" fill="#008000"/>
<rect x="510" y="276" width="5" height="5" fill="#008000"/>
<rect x="511" y="277" width="3" height="3" fill="#fff"/>
<rect x="518" y="272" width="1" height="10" fill="#ff0000"/>
<rect x="516" y="276" width="5" height="3" fill="#ff0000"/>
<rect x="525" y="277" width="1" height="7" fill="#ff0000"/>
<rect x="523" y="278" width="5" height="1" fill="#ff0000"/>
<rect x="532" y="274" width="1" height="7" fill="#008000"/>
<rect x="530" y="278" width="5" height="3" fill="#008000"/>
<rect x="531" y="279" width="3" height="1" fill="#fff"/>
<rect x="538" y="274" width="1" height="7" fill="#008000"/>
<rect x="536" y="275" width="5" height="4" fill="#008000"/>
<rect x="537" y="276" width="3" height="2" fill="#fff"/>
<rect x="545" y="263" width="1" height="12" fill="#008000"/>
<rect x="543" y="265" width="5" height="10" fill="#008000"/>
<rect x="544" y="266" width="3" height="8" fill="#fff"/>
<rect x="552" y="261" width="1" height="7" fill="#008000"/>
<rect x="550" y="264" width="5" height="2" fill="#008000"/>
</g>
<g shape-rendering="crispEdges" fill="none" stroke-linejoin="round">
<polygon points="117,189.5 117,304.5 539,289.5" stroke="#0000ff" stroke-width="2" stroke-linejoin="bevel"/>
<polyline points="0.0,139.2 8.8,142.0 17.7,144.7 30.1,148.2 37.1,151.6 47.7,154.8 58.4,157.4 70.7,161.5 79.6,165.0 88.4,167.1 100.0,172.5 110.6,176.8 121.2,181.4 131.8,186.4 142.4,190.8 153.1,194.5 160.1,197.7 170.7,201.6 179.6,205.6 188.4,208.6 199.0,213.1 205.0,215.6 216.7,220.2 233.4,225.6 238.5,228.2 250.0,231.6 257.7,232.6 267.0,236.2 283.6,241.2 298.0,246.7 306.0,249.2 313.0,250.9 321.8,251.8 326.3,253.5 331.9,255.2 337.5,256.7 343.1,258.0 348.8,259.4 354.4,260.3 360.0,261.2 365.6,262.5 371.3,263.4 376.9,264.2 385.0,265.3 391.3,266.7 398.0,267.6 405.9,268.6 419.4,269.7 430.6,270.3 443.0,270.8 450.0,271.8 458.6,273.1 464.9,274.1 481.6,275.0 511.0,275.0 513.0,275.8 553.0,275.8" stroke="#ff0000" stroke-width="2"/>
<polyline points="0.0,477.9 6.6,474.8 16.5,473.5 24.2,467.6 30.8,465.8 50.6,463.2 57.2,461.6 79.3,461.6 85.9,459.9 96.9,459.9 99.1,458.8 116.7,458.8 120.0,460.5 126.6,463.2 136.5,466.0 144.2,470.4 149.7,470.9 157.4,475.3 164.0,477.5 171.7,478.6 181.7,481.9 190.5,483.0 203.7,485.2 212.5,487.4 221.3,489.6 234.5,490.0 240.0,488.9 257.0,487.2 263.5,485.4 265.0,484.1 277.4,484.1 279.6,482.5 298.3,482.5 299.4,483.6 310.5,483.6 312.7,483.0 330.3,483.0 332.5,481.9 351.0,481.9 352.5,480.2 357.5,480.2 359.0,479.0 369.9,479.0 372.1,479.7 378.7,480.1 384.2,482.3 391.9,484.7 410.6,484.7 412.8,485.8 430.5,485.8 433.8,484.7 438.2,484.7 440.4,485.8 450.3,485.8 452.5,484.7 471.2,484.7 473.4,485.6 477.8,486.3 482.2,487.8 485.0,488.0 491.0,489.5 493.0,490.6 503.0,490.6 505.0,489.5 536.0,489.5 540.0,488.4 545.0,487.3 553.0,487.3" stroke="#ff0000" stroke-width="2"/>
<polyline points="0.0,36.6 3.5,31.3 10.5,21.8 17.5,14.5 23.5,11.5 30.5,12.2 37.5,14.3 43.5,16.1 50.5,17.9 57.5,19.6 63.5,20.6 70.5,21.5 77.5,23.4 84.5,26.2 90.5,29.7 97.5,35.1 104.5,41.9 110.5,47.6 117.5,56.7 124.5,66.1 130.5,73.4 137.5,78.3 144.5,80.3 150.5,77.5 157.5,70.3 164.5,60.7 171.5,53.2 177.5,47.3 184.5,42.7 191.5,40.5 197.5,40.4 204.5,39.6 211.5,37.9 217.5,34.6 224.5,29.0 231.5,22.3 237.5,16.9 244.5,12.0 251.5,9.2 257.5,10.8 264.5,16.4 271.5,24.5 278.5,32.4 284.5,42.3 291.5,54.2 298.5,66.3 304.5,74.2 311.5,84.2 318.5,91.4 324.5,94.0 331.5,92.2 338.5,87.6 344.5,81.1 351.5,72.3 358.5,65.5 365.5,62.4 371.5,63.2 378.5,68.4 385.5,77.8 391.5,84.5 398.5,88.8 405.5,89.0 411.5,86.6 418.5,81.0 425.5,74.6 431.5,70.1 438.5,66.6 445.5,64.1 451.5,65.0 458.5,68.2 465.5,73.4 472.5,78.2 478.5,82.9 485.5,86.1 492.5,88.0 498.5,88.3 505.5,86.6 512.5,79.6 518.5,70.7 525.5,61.1 532.5,53.6 538.5,48.8 545.5,43.1 552.5,37.3" stroke="#000" stroke-width="1" stroke-dasharray="3,3"/>
<polyline points="0.0,28.0 2.0,23.0 8.7,14.5 11.6,12.0 17.4,10.4 23.6,10.8 28.0,14.5 30.9,15.4 37.1,15.9 38.6,16.9 43.4,17.2 48.2,20.4 64.0,20.7 74.5,25.0 83.5,28.0 100.0,44.0 110.5,54.0 117.0,67.0 123.5,74.5 136.0,81.5 144.0,81.5 150.5,69.5 160.0,57.5 178.0,40.5 196.0,40.5 210.0,37.0 222.0,24.5 237.0,11.5 245.0,8.0 251.0,8.0 263.0,23.0 278.0,38.5 285.0,58.5 299.0,74.5 310.5,94.5 320.0,94.5 325.0,93.0 331.5,89.0 338.0,82.0 344.5,72.0 352.0,63.0 358.5,62.0 365.0,62.0 371.5,65.5 385.5,89.0 406.0,89.0 418.0,73.0 424.0,71.0 438.0,63.0 446.0,63.0 452.5,70.0 457.5,71.5 468.0,80.0 478.0,88.0 479.0,88.0 484.0,86.5 491.5,89.0 499.0,89.0 504.5,83.5 517.0,60.5 523.5,56.5 534.0,46.0 544.0,40.0 552.0,31.0" stroke="#ff0000" stroke-width="2"/>
</g>
<rect x="574" y="255" width="46" height="16" fill="#000" shape-rendering="crispEdges"/>
<text x="575" y="267" font-size="10.67" fill="#00ff00" textLength="45" lengthAdjust="spacingAndGlyphs">210.7300</text>
<g shape-rendering="crispEdges"><rect x="571" y="501" width="34" height="14" fill="#000"/><rect x="572" y="502" width="32" height="13" fill="#fff"/></g>
<text x="573" y="511" font-size="9" fill="#000">x10000</text>
<g font-size="12" fill="#000" text-anchor="end" letter-spacing="0.33">
<text x="616" y="63">50</text>
<text x="616" y="139">255</text>
<text x="616" y="154">250</text>
<text x="616" y="169">245</text>
<text x="616" y="184">240</text>
<text x="616" y="199">235</text>
<text x="616" y="213">230</text>
<text x="616" y="228">225</text>
<text x="616" y="243">220</text>
<text x="616" y="258">215</text>
<text x="616" y="287">205</text>
<text x="616" y="302">200</text>
<text x="616" y="317">195</text>
<text x="616" y="332">190</text>
<text x="616" y="347">185</text>
<text x="616" y="361">180</text>
<text x="616" y="376">175</text>
<text x="616" y="391">170</text>
<text x="616" y="437">15000</text>
<text x="616" y="468">10000</text>
<text x="616" y="499">5000</text>
</g>
<g font-size="12" fill="#000" letter-spacing="0.25">
<text x="19.5" y="527">5</text>
<text x="52.5" y="527">12</text>
<text x="86.5" y="527">19</text>
<text x="119.5" y="527">26</text>
<text x="152.5" y="527">3</text>
<text x="179.5" y="527">9</text>
<text x="213.5" y="527">16</text>
<text x="246.5" y="527">30</text>
<text x="280.5" y="527">6</text>
<text x="313.5" y="527">13</text>
<text x="346.5" y="527">20</text>
<text x="380.5" y="527">27</text>
<text x="413.5" y="527">6</text>
<text x="447.5" y="527">13</text>
<text x="480.5" y="527">20</text>
<text x="514.5" y="527">27</text>
<text x="547.5" y="527">3</text>
<text x="5.2" y="543" letter-spacing="0.25">December</text>
<text x="152.2" y="543" letter-spacing="0.25">2023</text>
<text x="259.2" y="543" letter-spacing="0">February</text>
<text x="393.2" y="543" letter-spacing="-0.05">March</text>
<text x="547.2" y="543" letter-spacing="-0.45">April</text>
</g>
<rect x="569" y="515" width="53" height="30" fill="#f0f0f0" shape-rendering="crispEdges"/>
</svg></body></html>
